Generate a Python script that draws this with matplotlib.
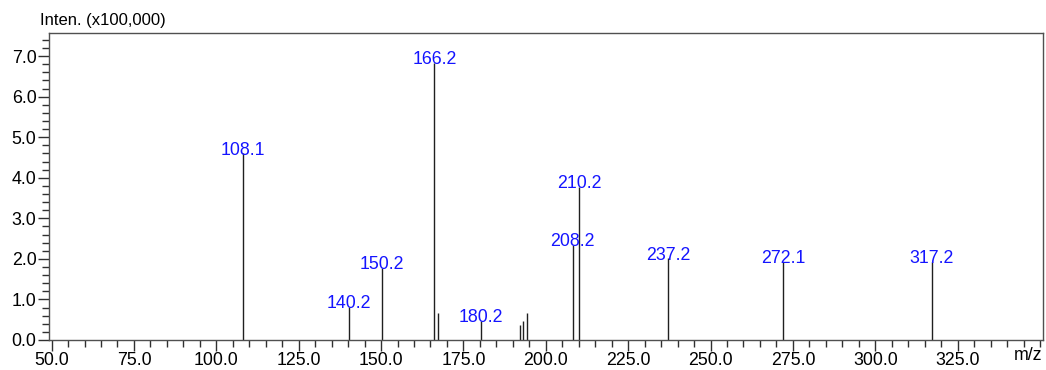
import matplotlib
matplotlib.use("Agg")
import matplotlib.pyplot as plt
from matplotlib.ticker import MultipleLocator, FormatStrFormatter

plt.rcParams["font.family"] = ["Liberation Sans", "DejaVu Sans"]

# peak positions (m/z) and intensities (x100,000)
mz = [108.1, 140.2, 150.2, 166.2, 167.2, 180.2, 192.2, 193.2, 194.2,
      208.2, 210.2, 237.2, 272.1, 317.2]
inten = [4.60, 0.82, 1.77, 6.83, 0.66, 0.47, 0.37, 0.47, 0.66,
         2.34, 3.78, 2.01, 1.93, 1.93]
labeled = [108.1, 140.2, 150.2, 166.2, 180.2, 208.2, 210.2, 237.2, 272.1, 317.2]

fig = plt.figure(figsize=(10.46, 3.70), dpi=100)
ax = fig.add_axes([0.0468, 0.0811, 0.9500, 0.8297])

ax.vlines(mz, 0, inten, colors="#202020", linewidth=1.0)
for m, h in zip(mz, inten):
    if m in labeled:
        ax.text(m, h - 0.03, f"{m:.1f}", color="#1414ff", fontsize=12.8,
                ha="center", va="baseline")

ax.set_xlim(49.2, 350.8)
ax.set_ylim(0, 7.57)
ax.xaxis.set_minor_locator(MultipleLocator(5))
ax.yaxis.set_major_locator(MultipleLocator(1))
ax.yaxis.set_minor_locator(MultipleLocator(0.2))
ax.xaxis.set_major_formatter(FormatStrFormatter("%.1f"))
ax.yaxis.set_major_formatter(FormatStrFormatter("%.1f"))
ax.set_xticks([t for t in range(50, 350, 25)])
ax.tick_params(which="major", length=8, width=1, color="#303030",
               labelsize=12.8, pad=1)
ax.tick_params(which="minor", length=5, width=1, color="#303030")
for s in ax.spines.values():
    s.set_color("#505050")
    s.set_linewidth(1.0)

fig.text(40 / 1046, 1 - 20 / 370, "Inten. (x100,000)", fontsize=12,
         ha="left", va="center")
fig.text(1028 / 1046, 1 - 355 / 370, "m/z", fontsize=12.8,
         ha="center", va="center")

fig.savefig("out.png", dpi=100)
plt.close(fig)
